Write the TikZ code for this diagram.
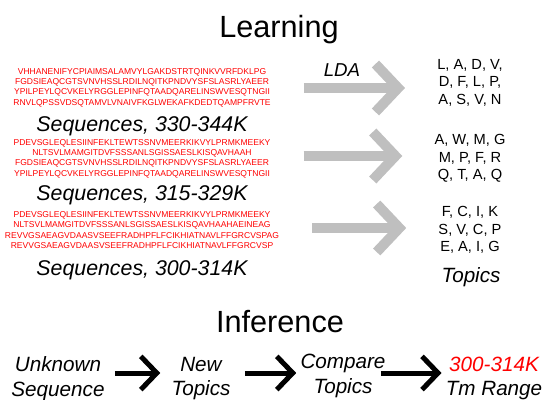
\documentclass[tikz,border=0pt]{standalone}
\usepackage{fontspec}
\setmainfont{Liberation Sans}
\usetikzlibrary{arrows.meta}

\tikzset{
  title/.style={font=\fontsize{23}{27}\selectfont, anchor=base, inner sep=0pt},
  seqtxt/.style={text=red, font=\fontsize{6.4}{7.7}\selectfont, align=center, inner sep=0pt},
  seqlabel/.style={font=\fontsize{16}{19}\selectfont\itshape, anchor=base, inner sep=0pt},
  topictxt/.style={font=\fontsize{11}{13.1}\selectfont, align=center, inner sep=0pt},
  lbl/.style={font=\fontsize{15.5}{18.5}\selectfont\itshape, align=center, inner sep=0pt},
  ldaarrow/.style={draw=black!25, line width=7.5pt, -{Straight Barb[length=17pt,width=36pt,sharp]}},
  infarrow/.style={draw=black, line width=3.75pt, -{Straight Barb[length=12pt,width=25pt,sharp]}},
}

\begin{document}
\begin{tikzpicture}[x=0.75pt,y=-0.75pt]
\useasboundingbox (0,0) rectangle (547,400);

% Titles
\node[title] (learn) at (279,37) {Learning};
\node[title] (infer) at (280,332) {Inference};

% Sequence blocks
\node[seqtxt] (seq1) at (142,87.5) {VHHANENIFYCPIAIMSALAMVYLGAKDSTRTQINKVVRFDKLPG\\
FGDSIEAQCGTSVNVHSSLRDILNQITKPNDVYSFSLASRLYAEER\\
YPILPEYLQCVKELYRGGLEPINFQTAADQARELINSWVESQTNGII\\
RNVLQPSSVDSQTAMVLVNAIVFKGLWEKAFKDEDTQAMPFRVTE};
\node[seqlabel] (lab1) at (142,131) {Sequences, 330-344K};

\node[seqtxt] (seq2) at (142,158.5) {PDEVSGLEQLESIINFEKLTEWTSSNVMEERKIKVYLPRMKMEEKY\\
NLTSVLMAMGITDVFSSSANLSGISSAESLKISQAVHAAH\\
FGDSIEAQCGTSVNVHSSLRDILNQITKPNDVYSFSLASRLYAEER\\
YPILPEYLQCVKELYRGGLEPINFQTAADQARELINSWVESQTNGII};
\node[seqlabel] (lab2) at (142,200) {Sequences, 315-329K};

\node[seqtxt] (seq3) at (142,230) {PDEVSGLEQLESIINFEKLTEWTSSNVMEERKIKVYLPRMKMEEKY\\
NLTSVLMAMGITDVFSSSANLSGISSAESLKISQAVHAAHAEINEAG\\
REVVGSAEAGVDAASVSEEFRADHPFLFCIKHIATNAVLFFGRCVSPAG\\
REVVGSAEAGVDAASVSEEFRADHPFLFCIKHIATNAVLFFGRCVSP};
\node[seqlabel] (lab3) at (142,275) {Sequences, 300-314K};

% Topics
\node[topictxt] (top1) at (470,82.5) {L, A, D, V,\\ D, F, L, P,\\ A, S, V, N};
\node[topictxt] (top2) at (470,158.5) {A, W, M, G\\ M, P, F, R\\ Q, T, A, Q};
\node[topictxt] (top3) at (470,230) {F, C, I, K\\ S, V, C, P\\ E, A, I, G};
\node[lbl] (topics) at (471,277) {Topics};

% LDA arrows
\draw[ldaarrow] ([shift={(33,0.5)}]seq1.east) -- ([shift={(-32,5.5)}]top1.west);
\draw[ldaarrow] ([shift={(33,-2.5)}]seq2.east) -- ([shift={(-32,-2.5)}]top2.west);
\draw[ldaarrow] ([shift={(33,-2)}]seq3.east) -- ([shift={(-32,-2)}]top3.west);
\node[font=\fontsize{14}{17}\selectfont\itshape, anchor=base, inner sep=0pt] (lda) at (342,76) {LDA};

% Inference chain
\node[lbl] (unk) at (58,378.5) {Unknown\\Sequence};
\node[lbl] (new) at (201,378.5) {New\\Topics};
\node[lbl] (comp) at (343,376) {Compare\\Topics};
\node[lbl] (tm) at (494,378.5) {\textcolor{red}{300-314K}\\Tm Range};

\draw[infarrow] ([shift={(10,-5.5)}]unk.east) -- ([shift={(-11,-5.5)}]new.west);
\draw[infarrow] ([shift={(14,-5.5)}]new.east) -- ([shift={(-4,-3)}]comp.west);
\draw[infarrow] ([shift={(-5,-3)}]comp.east) -- ([shift={(-4,-5.5)}]tm.west);

\end{tikzpicture}
\end{document}
